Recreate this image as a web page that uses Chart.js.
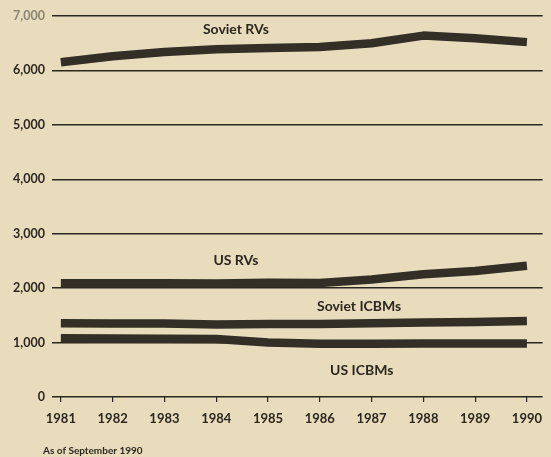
<!DOCTYPE html>
<html>
<head>
<meta charset="utf-8">
<script src="https://cdn.jsdelivr.net/npm/chart.js@4.4.0/dist/chart.umd.min.js"></script>
<style>
  html, body { margin: 0; padding: 0; background: #e9dcbc; }
  #wrap { position: relative; width: 551px; height: 457px; }
</style>
</head>
<body>
<div id="wrap"><canvas id="warheads" width="551" height="457"></canvas></div>
<script>
const years = [1981, 1982, 1983, 1984, 1985, 1986, 1987, 1988, 1989, 1990];
const sovietRVs = [6150, 6260, 6340, 6390, 6410, 6430, 6500, 6640, 6590, 6520];
const usRVs = [2090, 2090, 2090, 2085, 2100, 2095, 2160, 2255, 2315, 2410];
const sovietICBMs = [1355, 1350, 1350, 1330, 1340, 1340, 1355, 1370, 1380, 1395];
const usICBMs = [1080, 1075, 1070, 1065, 1000, 980, 980, 985, 985, 985];
const yTicks = [0, 1000, 2000, 3000, 4000, 5000, 6000, 7000];

const seriesNames = ["Soviet RVs", "US RVs", "Soviet ICBMs", "US ICBMs"];
const noteText = "As of September 1990";

const ink = "#2b271f";

// where each series name sits, in axis units
const nameSpots = [
  { x: 1984.38, y: 6745 },
  { x: 1984.38, y: 2505 },
  { x: 1986.76, y: 1660 },
  { x: 1986.81, y: 485 }
];

function points(values) {
  return years.map((yr, i) => ({ x: yr, y: values[i] }));
}

function band(label, values) {
  return {
    label: label,
    data: points(values),
    borderColor: "#332f27",
    borderWidth: 8.5,
    borderCapStyle: "butt",
    borderJoinStyle: "round",
    pointRadius: 0,
    tension: 0,
    fill: false
  };
}

const captions = {
  id: "captions",
  afterDatasetsDraw(chart) {
    const ctx = chart.ctx;
    const xs = chart.scales.x, ys = chart.scales.y;
    ctx.save();
    ctx.fillStyle = ink;
    ctx.textAlign = "center";
    ctx.textBaseline = "middle";
    ctx.font = "bold 14px Lato";
    seriesNames.forEach((name, i) => {
      const spot = nameSpots[i];
      ctx.fillText(name, xs.getPixelForValue(spot.x), ys.getPixelForValue(spot.y));
    });
    ctx.textAlign = "left";
    ctx.font = "bold 10px Lato";
    ctx.fillText(noteText, 43, 451);
    ctx.restore();
  }
};

new Chart(document.getElementById("warheads"), {
  type: "line",
  data: {
    datasets: [
      band(seriesNames[0], sovietRVs),
      band(seriesNames[1], usRVs),
      band(seriesNames[2], sovietICBMs),
      band(seriesNames[3], usICBMs)
    ]
  },
  options: {
    responsive: false,
    animation: false,
    layout: { padding: { top: 16, right: 0, bottom: 0, left: 0 } },
    plugins: { legend: { display: false }, tooltip: { enabled: false } },
    scales: {
      x: {
        type: "linear",
        min: 1980.829,
        max: 1990.303,
        afterBuildTicks: s => { s.ticks = years.map(v => ({ value: v })); },
        afterFit: s => { s.height = 60; },
        border: { display: false },
        grid: { drawOnChartArea: false, drawTicks: true, tickLength: 5, color: ink, lineWidth: 1.2 },
        ticks: {
          padding: 9,
          maxRotation: 0,
          autoSkip: false,
          color: ink,
          font: { family: "Lato", weight: "bold", size: 13 },
          callback: v => String(v)
        }
      },
      y: {
        min: 0,
        max: 7000,
        afterBuildTicks: s => { s.ticks = yTicks.map(v => ({ value: v })); },
        afterFit: s => { s.width = 52; },
        border: { display: false },
        grid: { color: ink, lineWidth: 1.5, drawTicks: false },
        ticks: {
          padding: 7,
          color: c => (c.tick.value === 7000 ? "#8b8373" : ink),
          font: { family: "Lato", weight: "bold", size: 12.5 },
          callback: v => v.toLocaleString("en-US")
        }
      }
    }
  },
  plugins: [captions]
});
</script>
</body>
</html>
